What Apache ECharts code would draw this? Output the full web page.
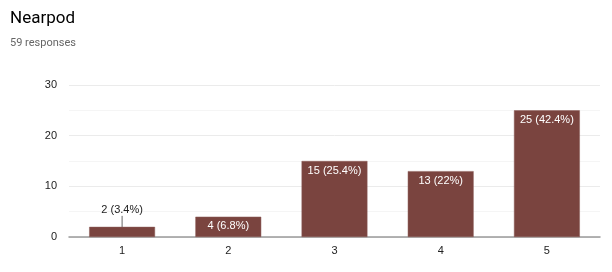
<!DOCTYPE html>
<html><head><meta charset="utf-8">
<script src="https://cdn.jsdelivr.net/npm/echarts@6/dist/echarts.min.js"></script>
<style>html,body{margin:0;padding:0;background:#fff}#c{width:612px;height:272px}</style>
</head><body><div id="c"></div>
<script>
const categories = ['1', '2', '3', '4', '5'];
const values = [2, 4, 15, 13, 25];
const percents = ['3.4%', '6.8%', '25.4%', '22%', '42.4%'];
const titleText = 'Nearpod';
const subtitleText = '59 responses';

const chart = echarts.init(document.getElementById('c'), null, {renderer: 'canvas'});
const data = values.map((v, i) => {
  const item = {value: v};
  if (i === 0) {
    item.label = {position: 'top', distance: 2, color: '#222'};
    item.labelLine = {show: true, lineStyle: {color: '#666', width: 1}};
  }
  return item;
});
chart.setOption({
  animation: false,
  title: {
    text: titleText, subtext: subtitleText, left: 5, top: 5, itemGap: 11,
    textStyle: {fontFamily: 'Roboto, Arial, sans-serif', fontSize: 17, fontWeight: 'normal', color: '#000'},
    subtextStyle: {fontFamily: 'Roboto, Arial, sans-serif', fontSize: 11, color: '#666'}
  },
  grid: {left: 69, right: 12, top: 85, bottom: 35},
  xAxis: {
    type: 'category', data: categories,
    axisTick: {show: false},
    axisLine: {lineStyle: {color: '#9a9a9a', width: 1.5}},
    axisLabel: {color: '#222', fontFamily: 'Arial, "Liberation Sans", sans-serif', fontSize: 11, margin: 8}
  },
  yAxis: {
    type: 'value', min: 0, max: 30, interval: 10,
    axisLine: {show: false}, axisTick: {show: false},
    axisLabel: {color: '#222', fontFamily: 'Arial, "Liberation Sans", sans-serif', fontSize: 11, margin: 12},
    splitLine: {lineStyle: {color: '#ebebeb'}},
    minorTick: {show: false, splitNumber: 2},
    minorSplitLine: {show: true, lineStyle: {color: '#f5f5f5'}}
  },
  series: [{
    type: 'bar', data: data, barWidth: '62%',
    itemStyle: {color: '#7a443f', borderColor: '#8a5a56', borderWidth: 0.5},
    labelLayout: p => (p.dataIndex === 0 ? {dy: -9} : {}),
    label: {
      show: true, position: 'insideTop', distance: 4,
      color: '#fff', fontFamily: 'Arial, "Liberation Sans", sans-serif', fontSize: 11,
      formatter: p => p.value + ' (' + percents[p.dataIndex] + ')'
    }
  }]
});
</script></body></html>
